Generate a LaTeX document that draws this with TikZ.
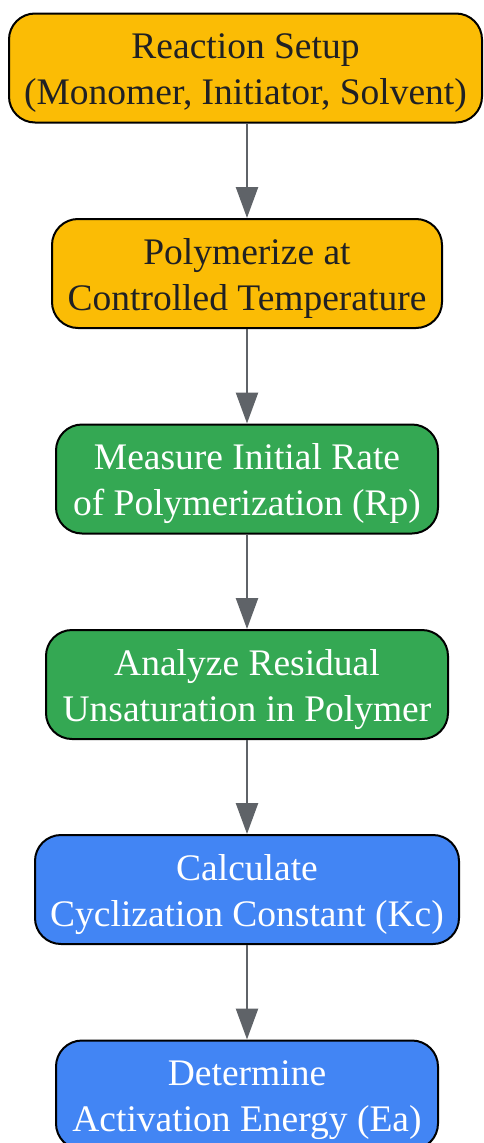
\documentclass[tikz,border=0pt]{standalone}
\usepackage{fontspec}
\setmainfont{Liberation Serif}
\usetikzlibrary{arrows.meta}
\definecolor{gyellow}{HTML}{FBBC05}
\definecolor{ggreen}{HTML}{34A853}
\definecolor{gblue}{HTML}{4285F4}
\definecolor{gtext}{HTML}{202124}
\definecolor{garrow}{HTML}{5F6368}
\tikzset{
  box/.style={draw=black, line width=2pt, rounded corners=26pt, minimum height=109pt,
    inner sep=0pt},
  ybox/.style={box, fill=gyellow},
  gbox/.style={box, fill=ggreen},
  bbox/.style={box, fill=gblue},
  txt/.style={inner sep=0pt, align=center, yshift=-5pt, font=\fontsize{37.5}{46}\selectfont},
  dtxt/.style={txt, text=gtext},
  wtxt/.style={txt, text=white},
  flow/.style={draw=garrow, line width=2.5pt, -{Triangle[length=31pt,width=22pt]}}
}
\begin{document}
\begin{tikzpicture}[x=1pt,y=-1pt]
\useasboundingbox (0,0) rectangle (483,1143);
\node[ybox, minimum width=473pt] (n1) at (245.5,68) {};
\node[dtxt] (t1) at (n1.center) {Reaction Setup\\(Monomer, Initiator, Solvent)};
\node[ybox, minimum width=390pt] (n2) at (247,273.5) {};
\node[dtxt] (t2) at (n2.center) {Polymerize at\\Controlled Temperature};
\node[gbox, minimum width=382pt] (n3) at (247,479) {};
\node[wtxt] (t3) at (n3.center) {Measure Initial Rate\\of Polymerization (Rp)};
\node[gbox, minimum width=402pt] (n4) at (247,684.5) {};
\node[wtxt] (t4) at (n4.center) {Analyze Residual\\Unsaturation in Polymer};
\node[bbox, minimum width=424pt] (n5) at (247,889.5) {};
\node[wtxt] (t5) at (n5.center) {Calculate\\Cyclization Constant (Kc)};
\node[bbox, minimum width=382pt] (n6) at (247,1095) {};
\node[wtxt] (t6) at (n6.center) {Determine\\Activation Energy (Ea)};
\draw[flow] (n1.south -| n2.north) -- (n2.north);
\draw[flow] (n2) -- (n3);
\draw[flow] (n3) -- (n4);
\draw[flow] (n4) -- (n5);
\draw[flow] (n5) -- (n6);
\end{tikzpicture}
\end{document}
